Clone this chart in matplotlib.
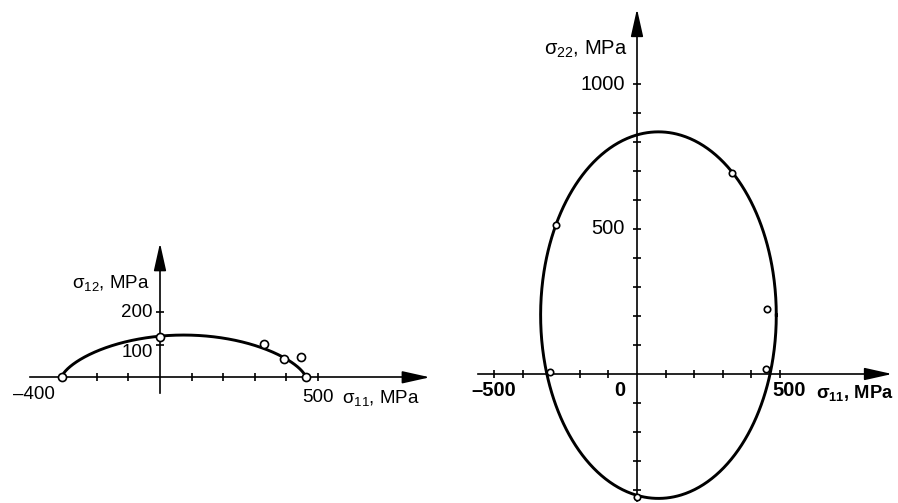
import numpy as np
import matplotlib
matplotlib.use("Agg")
import matplotlib.pyplot as plt

plt.rcParams["font.family"] = ["Liberation Sans", "DejaVu Sans"]
plt.rcParams["mathtext.fontset"] = "custom"
plt.rcParams["mathtext.rm"] = "Liberation Sans"
plt.rcParams["mathtext.it"] = "Liberation Sans"
plt.rcParams["mathtext.bf"] = "Liberation Sans:bold"
plt.rcParams["mathtext.default"] = "regular"

# ---- sigma11 - sigma12 plane: test points (MPa)
shear_s11 = [-311, 0, 330, 392, 446, 462]
shear_s12 = [0, 125, 102, 57, 64, 0]
# failure envelope in the sigma11 - sigma12 plane
shear_center = 75
shear_half_width = 386
shear_peak = 130
shear_exponent = 0.68

# ---- sigma11 - sigma22 plane: test points (MPa)
biax_s11 = [-304, -284, 0, 333, 456, 451]
biax_s22 = [8, 514, -424, 693, 224, 17]
# failure ellipse in the sigma11 - sigma22 plane
ellipse_center = (75, 203)
ellipse_semi_axes = (412, 632)

# ticks
left_xticks = [-200, -100, 100, 200, 300, 400, 500]
left_yticks = [100, 200]
right_xticks = [-500, -400, -200, -100, 100, 200, 300, 400, 500]
right_yticks = [-400, -300, -200, -100, 100, 200, 300, 400, 500, 600, 700, 800, 900, 1000]

W, H = 898, 503
fig = plt.figure(figsize=(W / 100, H / 100), dpi=100)

SPLIT = 465
axL = fig.add_axes([0, 0, SPLIT / W, 1])
axR = fig.add_axes([SPLIT / W, 0, (W - SPLIT) / W, 1])

# pixel scales of the two panels
axL.set_xlim((0 - 160) / 0.316, (SPLIT - 160) / 0.316)
axL.set_ylim((377.3 - H) / 0.325, 377.3 / 0.325)
axR.set_xlim((SPLIT - 637) / 0.286, (W - 637) / 0.286)
axR.set_ylim((374 - H) / 0.29, 374 / 0.29)

AX_LW = 1.2


def setup_axes(ax, xstart, xbase, xtip, ystart, ybase, ytip, xticks, yticks):
    ax.patch.set_visible(False)
    for s in ("top", "right"):
        ax.spines[s].set_visible(False)
    ax.spines["bottom"].set_position(("data", 0))
    ax.spines["left"].set_position(("data", 0))
    ax.spines["bottom"].set_bounds(xstart, xbase)
    ax.spines["left"].set_bounds(ystart, ybase)
    for s in ("bottom", "left"):
        ax.spines[s].set_linewidth(AX_LW)
    ax.set_xticks(xticks)
    ax.set_yticks(yticks)
    ax.set_xticklabels([])
    ax.set_yticklabels([])
    ax.tick_params(direction="inout", length=6, width=1.2, color="k")
    arrow = dict(arrowstyle="-|>,head_length=1.7,head_width=0.38", lw=AX_LW,
                 color="k", shrinkA=0, shrinkB=0, mutation_scale=10)
    ax.annotate("", xy=(xtip, 0), xytext=(xbase - 1, 0), arrowprops=arrow)
    ax.annotate("", xy=(0, ytip), xytext=(0, ybase - 1), arrowprops=arrow)


# left panel axes
setup_axes(axL, -411, 790, 854, -48, 350, 413, left_xticks, left_yticks)
# right panel axes
setup_axes(axR, -556, 820, 892, -438, 1180, 1259, right_xticks, right_yticks)

# ---- left panel curve and points
u = np.linspace(-1, 1, 600)
env_x = shear_center + shear_half_width * u
env_y = shear_peak * np.clip(1 - u ** 2, 0, None) ** shear_exponent
axL.plot(env_x, env_y, color="k", lw=2.1, solid_capstyle="round", zorder=3)
axL.plot(shear_s11, shear_s12, "o", ms=5.8, mfc="white", mec="k", mew=1.2,
         zorder=4, clip_on=False)

# ---- right panel ellipse and points
t = np.linspace(0, 2 * np.pi, 800)
ex = ellipse_center[0] + ellipse_semi_axes[0] * np.cos(t)
ey = ellipse_center[1] + ellipse_semi_axes[1] * np.sin(t)
axR.plot(ex, ey, color="k", lw=2.1, zorder=3, clip_on=False)
axR.plot(biax_s11, biax_s22, "o", ms=4.6, mfc="white", mec="k", mew=1.2,
         zorder=4, clip_on=False)


# ---- labels
def label(ax, text, xy, off, ha, va, size, weight="normal"):
    ax.annotate(text, xy=xy, xytext=off, textcoords="offset pixels",
                ha=ha, va=va, fontsize=size, fontweight=weight, color="k")


LS = 13.5
label(axL, "\u2013400", (-400, 0), (0, -17), "center", "center", LS)
label(axL, "500", (500, 0), (0, -20), "center", "center", LS)
label(axL, r"$\sigma_{11}$, MPa", (576, 0), (0, -26), "left", "baseline", LS)
label(axL, r"$\sigma_{12}$, MPa", (0, 275), (-10, 0), "right", "baseline", LS)
label(axL, "200", (0, 200), (-8, 0), "right", "center", LS)
label(axL, "100", (0, 100), (-7, -8), "right", "center", LS)

RS = 14.5
label(axR, r"$\sigma_{22}$, MPa", (0, 1100), (-10, 0), "right", "baseline", RS)
label(axR, "1000", (0, 1000), (-12, 0), "right", "center", RS)
label(axR, "500", (0, 500), (-12, 0), "right", "center", RS)
label(axR, "0", (0, 0), (-12, -17), "right", "center", RS, "bold")
label(axR, "\u2013500", (-500, 0), (0, -17), "center", "center", RS, "bold")
label(axR, "500", (500, 0), (9, -17), "center", "center", RS, "bold")
label(axR, r"$\mathbf{\sigma_{11}}$, MPa", (627, 0), (0, -24), "left", "baseline",
      13.2, "bold")

fig.savefig("out.png", dpi=100)
